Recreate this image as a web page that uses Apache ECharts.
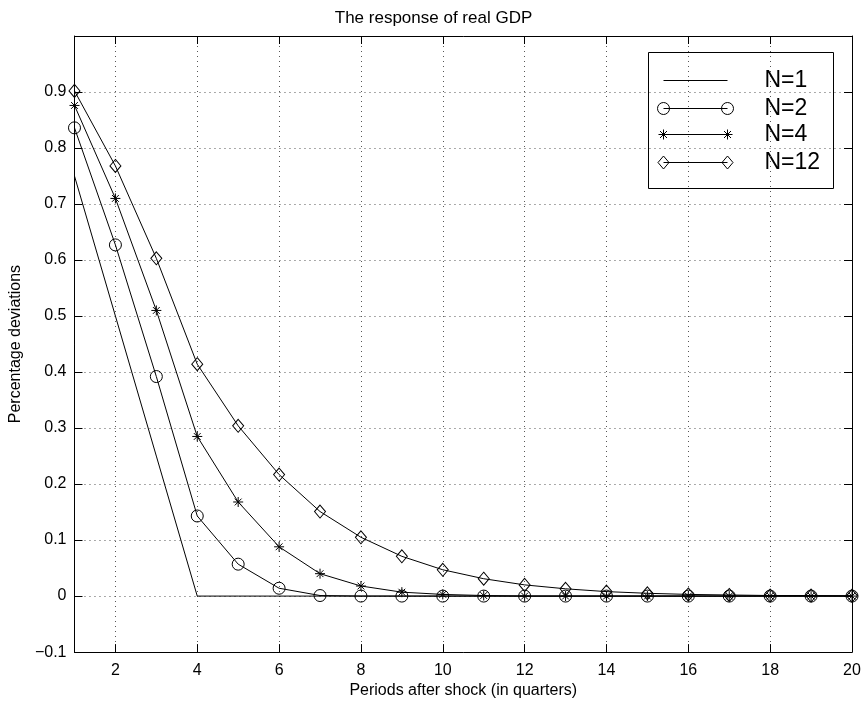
<!DOCTYPE html>
<html>
<head>
<meta charset="utf-8">
<script src="https://cdn.jsdelivr.net/npm/echarts@6/dist/echarts.min.js"></script>
<style>html,body{margin:0;padding:0;background:#fff}#c{width:867px;height:704px}</style>
</head>
<body>
<div id="c"></div>
<script>
var periods = [1,2,3,4,5,6,7,8,9,10,11,12,13,14,15,16,17,18,19,20];
var xTicks = [2,4,6,8,10,12,14,16,18,20];
var n1 = [0.75,0.5,0.25,0,0,0,0,0,0,0,0,0,0,0,0,0,0,0,0,0];
var n2 = [0.836,0.627,0.392,0.143,0.057,0.014,0.001,0,0,0,0,0,0,0,0,0,0,0,0,0];
var n4 = [0.876,0.710,0.510,0.285,0.168,0.088,0.040,0.018,0.007,0.003,0.001,0,0,0,0,0,0,0,0,0];
var n12 = [0.902,0.768,0.603,0.414,0.304,0.217,0.151,0.105,0.071,0.047,0.031,0.020,0.013,0.008,0.005,0.003,0.002,0.001,0.001,0.0005];
var seriesNames = ['N=1','N=2','N=4','N=12'];

var FONT = '"Liberation Sans", Arial, Helvetica, sans-serif';
var STAR = 'path://M5,0L5,10M0,5L10,5M1.6,1.6L8.4,8.4M1.6,8.4L8.4,1.6';

function pairs(arr){ return periods.map(function(p,i){ return [p, arr[i]]; }); }
function yFmt(v){ var r = Math.round(v*10)/10; if (r >= 1) return ''; if (r < 0) return '\u2212' + Math.abs(r); return String(r); }

var markerStyle = {color:'transparent', borderColor:'#000', borderWidth:1};
function mk(name, data, symbol, size){
  return {
    name: name, type:'line', data: pairs(data),
    symbol: symbol, symbolSize: size, showSymbol: symbol !== 'none',
    lineStyle:{color:'#000', width:1}, itemStyle: markerStyle,
    animation:false, silent:true, z: 3
  };
}

function legendChildren(){
  var ch = [{type:'rect', shape:{x:0,y:0,width:185,height:136},
    style:{fill:'#fff', stroke:'#000', lineWidth:1}}];
  var rows = [28,56,82,110];
  var syms = [null,'circle','star','diamond'];
  rows.forEach(function(y,i){
    ch.push({type:'line', shape:{x1:15,y1:y,x2:79,y2:y}, style:{stroke:'#000', lineWidth:1}});
    [15,79].forEach(function(x){
      if (syms[i]==='circle') ch.push({type:'circle', shape:{cx:x,cy:y,r:6}, style:{fill:'none',stroke:'#000',lineWidth:1}});
      if (syms[i]==='diamond') ch.push({type:'polygon', shape:{points:[[x,y-6.5],[x+5.5,y],[x,y+6.5],[x-5.5,y]]}, style:{fill:'none',stroke:'#000',lineWidth:1}});
      if (syms[i]==='star') {
        [[0,-5,0,5],[-5,0,5,0],[-3.5,-3.5,3.5,3.5],[-3.5,3.5,3.5,-3.5]].forEach(function(s){
          ch.push({type:'line', shape:{x1:x+s[0],y1:y+s[1],x2:x+s[2],y2:y+s[3]}, style:{stroke:'#000',lineWidth:1}});
        });
      }
    });
    ch.push({type:'text', x:116, y:y, style:{text:seriesNames[i], font:'23px '+FONT, fill:'#000', verticalAlign:'middle'}});
  });
  return ch;
}

var chart = echarts.init(document.getElementById('c'));
var tickCommon = {show:true, inside:true, length:8, lineStyle:{color:'#000', width:1}};
var gridLine = {show:true, lineStyle:{color:'#555', width:1, type:[1,4]}};
chart.setOption({
  backgroundColor:'#fff',
  animation:false,
  title:{text:'The response of real GDP', left:'center', top:5,
    textStyle:{fontFamily:FONT, fontSize:17, fontWeight:'normal', color:'#000'}},
  grid:{left:71, right:15, top:36, bottom:51, containLabel:false},
  xAxis:[{
    type:'value', min:1, max:20,
    name:'Periods after shock (in quarters)', nameLocation:'middle', nameGap:28,
    nameTextStyle:{fontFamily:FONT, fontSize:16, color:'#000', verticalAlign:'top'},
    axisLine:{show:true, onZero:false, lineStyle:{color:'#000', width:1}},
    axisTick:Object.assign({customValues:xTicks}, tickCommon),
    axisLabel:{customValues:xTicks, fontFamily:FONT, fontSize:16, color:'#000', margin:10},
    splitLine:gridLine
  },{
    type:'value', min:1, max:20, position:'top',
    axisLine:{show:true, onZero:false, lineStyle:{color:'#000', width:1}},
    axisTick:Object.assign({customValues:xTicks}, tickCommon),
    axisLabel:{show:false}, splitLine:{show:false}
  }],
  yAxis:[{
    type:'value', min:-0.1, max:1.0, interval:0.1,
    name:'Percentage deviations', nameLocation:'middle', nameGap:38, nameRotate:90,
    nameTextStyle:{fontFamily:FONT, fontSize:16, color:'#000'},
    axisLine:{show:true, onZero:false, lineStyle:{color:'#000', width:1}},
    axisTick:tickCommon,
    axisLabel:{formatter:yFmt, fontFamily:FONT, fontSize:16, color:'#000', margin:8},
    splitLine:gridLine
  },{
    type:'value', min:-0.1, max:1.0, interval:0.1, position:'right',
    axisLine:{show:true, onZero:false, lineStyle:{color:'#000', width:1}},
    axisTick:tickCommon, axisLabel:{show:false}, splitLine:{show:false}
  }],
  series:[
    mk(seriesNames[0], n1, 'none', 0),
    mk(seriesNames[1], n2, 'circle', 12),
    mk(seriesNames[2], n4, STAR, 10),
    mk(seriesNames[3], n12, 'diamond', [11,13])
  ],
  graphic:[{
    type:'group', left:648, top:52, silent:true, z:100,
    children: legendChildren()
  }]
});
</script>
</body>
</html>
